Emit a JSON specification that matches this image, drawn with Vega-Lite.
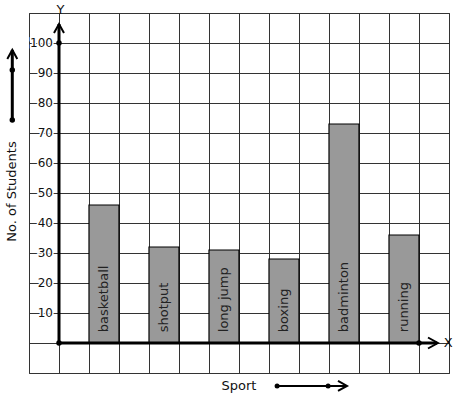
{
  "$schema": "https://vega.github.io/schema/vega-lite/v6.json",
  "width": 420,
  "height": 360,
  "autosize": "none",
  "padding": {"left": 29, "top": 13, "right": 8, "bottom": 26},
  "config": {
    "view": {"stroke": "#333", "strokeWidth": 1},
    "font": "DejaVu Sans",
    "axis": {"grid": true, "gridColor": "#333", "gridOpacity": 1, "gridWidth": 1, "labels": false, "ticks": false, "domain": false, "titleOpacity": 0},
    "axisX": {"tickCount": 15},
    "axisY": {"tickCount": 12}
  },
  "datasets": {
    "sports": [
      {"sport": "basketball", "students": 46},
      {"sport": "shotput", "students": 32},
      {"sport": "long jump", "students": 31},
      {"sport": "boxing", "students": 28},
      {"sport": "badminton", "students": 73},
      {"sport": "running", "students": 36}
    ],
    "ticks": [{"v": 10}, {"v": 20}, {"v": 30}, {"v": 40}, {"v": 50}, {"v": 60}, {"v": 70}, {"v": 80}, {"v": 90}, {"v": 100}],
    "one": [{}]
  },
  "resolve": {"scale": {"x": "independent"}},
  "layer": [
    {
      "data": {"name": "ticks"},
      "layer": [
        {
          "mark": {"type": "text", "align": "right", "baseline": "middle", "fontSize": 12, "font": "DejaVu Sans", "stroke": "white", "strokeWidth": 3, "fill": "white"},
          "encoding": {
            "x": {"datum": -0.2, "type": "quantitative", "scale": {"domain": [-1, 13], "nice": false, "zero": false}},
            "y": {"field": "v", "type": "quantitative", "scale": {"domain": [-10, 110], "nice": false, "zero": false}},
            "text": {"field": "v"}
          }
        },
        {
          "mark": {"type": "text", "align": "right", "baseline": "middle", "fontSize": 12, "font": "DejaVu Sans", "color": "#111"},
          "encoding": {
            "x": {"datum": -0.2, "type": "quantitative", "scale": {"domain": [-1, 13], "nice": false, "zero": false}},
            "y": {"field": "v", "type": "quantitative", "scale": {"domain": [-10, 110], "nice": false, "zero": false}},
            "text": {"field": "v"}
          }
        }
      ]
    },
    {
      "data": {"name": "sports"},
      "layer": [
        {
          "mark": {"type": "bar", "fill": "#999999", "stroke": "#000", "strokeWidth": 1.2},
          "encoding": {
            "x": {"field": "sport", "type": "nominal", "sort": null,
              "scale": {"domain": ["s0", "s1", "basketball", "s3", "shotput", "s5", "long jump", "s7", "boxing", "s9", "badminton", "s11", "running", "s13"], "paddingInner": 0, "paddingOuter": 0},
              "axis": null},
            "y": {"field": "students", "type": "quantitative", "scale": {"domain": [-10, 110], "nice": false, "zero": false}}
          }
        },
        {
          "mark": {"type": "text", "angle": 270, "align": "left", "baseline": "middle", "fontSize": 13, "font": "DejaVu Sans", "color": "#222"},
          "encoding": {
            "x": {"field": "sport", "type": "nominal", "sort": null,
              "scale": {"domain": ["s0", "s1", "basketball", "s3", "shotput", "s5", "long jump", "s7", "boxing", "s9", "badminton", "s11", "running", "s13"], "paddingInner": 0, "paddingOuter": 0},
              "axis": null},
            "y": {"datum": 3.6, "type": "quantitative", "scale": {"domain": [-10, 110], "nice": false, "zero": false}},
            "text": {"field": "sport"}
          }
        }
      ]
    },
    {
      "data": {"name": "one"},
      "layer": [
        {
          "mark": {"type": "rule", "color": "black", "strokeWidth": 3},
          "encoding": {
            "x": {"datum": 0, "type": "quantitative", "scale": {"domain": [-1, 13], "nice": false, "zero": false}},
            "y": {"datum": 0, "type": "quantitative", "scale": {"domain": [-10, 110], "nice": false, "zero": false}},
            "y2": {"datum": 106.3}
          }
        },
        {
          "mark": {"type": "rule", "color": "black", "strokeWidth": 3},
          "encoding": {
            "x": {"datum": 0, "type": "quantitative"},
            "x2": {"datum": 12.6},
            "y": {"datum": 0, "type": "quantitative"}
          }
        },
        {
          "mark": {"type": "point", "shape": "M-1,1.8L0,0L1,1.8", "filled": false, "stroke": "black", "strokeWidth": 2, "opacity": 1, "size": 100},
          "encoding": {
            "x": {"datum": 0, "type": "quantitative"},
            "y": {"datum": 106.3, "type": "quantitative"}
          }
        },
        {
          "mark": {"type": "point", "shape": "M-1.8,-1L0,0L-1.8,1", "filled": false, "stroke": "black", "strokeWidth": 2, "opacity": 1, "size": 121},
          "encoding": {
            "x": {"datum": 12.63, "type": "quantitative"},
            "y": {"datum": 0, "type": "quantitative"}
          }
        },
        {
          "mark": {"type": "point", "shape": "circle", "filled": true, "color": "black", "opacity": 1, "size": 30},
          "encoding": {
            "x": {"datum": 0, "type": "quantitative"},
            "y": {"datum": 0, "type": "quantitative"}
          }
        },
        {
          "mark": {"type": "point", "shape": "circle", "filled": true, "color": "black", "opacity": 1, "size": 30},
          "encoding": {
            "x": {"datum": 0, "type": "quantitative"},
            "y": {"datum": 100, "type": "quantitative"}
          }
        },
        {
          "mark": {"type": "point", "shape": "circle", "filled": true, "color": "black", "opacity": 1, "size": 30},
          "encoding": {
            "x": {"datum": 12, "type": "quantitative"},
            "y": {"datum": 0, "type": "quantitative"}
          }
        },
        {
          "mark": {"type": "text", "text": "Y", "align": "center", "baseline": "middle", "fontSize": 13, "font": "DejaVu Sans", "color": "#111"},
          "encoding": {
            "x": {"datum": 0.05, "type": "quantitative"},
            "y": {"datum": 111, "type": "quantitative"}
          }
        },
        {
          "mark": {"type": "text", "text": "X", "align": "center", "baseline": "middle", "fontSize": 13, "font": "DejaVu Sans", "color": "#111"},
          "encoding": {
            "x": {"datum": 12.97, "type": "quantitative"},
            "y": {"datum": 0, "type": "quantitative"}
          }
        },
        {
          "mark": {"type": "rule", "color": "black", "strokeWidth": 3},
          "encoding": {
            "x": {"datum": -1.557, "type": "quantitative"},
            "y": {"datum": 74.3, "type": "quantitative"},
            "y2": {"datum": 97.7}
          }
        },
        {
          "mark": {"type": "point", "shape": "M-1,1.8L0,0L1,1.8", "filled": false, "stroke": "black", "strokeWidth": 2, "opacity": 1, "size": 100},
          "encoding": {
            "x": {"datum": -1.557, "type": "quantitative"},
            "y": {"datum": 97.7, "type": "quantitative"}
          }
        },
        {
          "mark": {"type": "point", "shape": "circle", "filled": true, "color": "black", "opacity": 1, "size": 30},
          "encoding": {
            "x": {"datum": -1.557, "type": "quantitative"},
            "y": {"datum": 91, "type": "quantitative"}
          }
        },
        {
          "mark": {"type": "point", "shape": "circle", "filled": true, "color": "black", "opacity": 1, "size": 30},
          "encoding": {
            "x": {"datum": -1.557, "type": "quantitative"},
            "y": {"datum": 74.3, "type": "quantitative"}
          }
        },
        {
          "mark": {"type": "text", "text": "No. of Students", "angle": 270, "align": "center", "baseline": "middle", "fontSize": 13, "font": "DejaVu Sans", "color": "#111"},
          "encoding": {
            "x": {"datum": -1.567, "type": "quantitative"},
            "y": {"datum": 50.5, "type": "quantitative"}
          }
        },
        {
          "mark": {"type": "text", "text": "Sport", "align": "center", "baseline": "middle", "fontSize": 13, "font": "DejaVu Sans", "color": "#111"},
          "encoding": {
            "x": {"datum": 6.0, "type": "quantitative"},
            "y": {"datum": -14.3, "type": "quantitative"}
          }
        },
        {
          "mark": {"type": "rule", "color": "black", "strokeWidth": 2},
          "encoding": {
            "x": {"datum": 7.27, "type": "quantitative"},
            "x2": {"datum": 9.6},
            "y": {"datum": -14.3, "type": "quantitative"}
          }
        },
        {
          "mark": {"type": "point", "shape": "M-1.8,-1L0,0L-1.8,1", "filled": false, "stroke": "black", "strokeWidth": 2, "opacity": 1, "size": 100},
          "encoding": {
            "x": {"datum": 9.6, "type": "quantitative"},
            "y": {"datum": -14.3, "type": "quantitative"}
          }
        },
        {
          "mark": {"type": "point", "shape": "circle", "filled": true, "color": "black", "opacity": 1, "size": 25},
          "encoding": {
            "x": {"datum": 7.27, "type": "quantitative"},
            "y": {"datum": -14.3, "type": "quantitative"}
          }
        },
        {
          "mark": {"type": "point", "shape": "circle", "filled": true, "color": "black", "opacity": 1, "size": 25},
          "encoding": {
            "x": {"datum": 8.97, "type": "quantitative"},
            "y": {"datum": -14.3, "type": "quantitative"}
          }
        }
      ]
    }
  ]
}
